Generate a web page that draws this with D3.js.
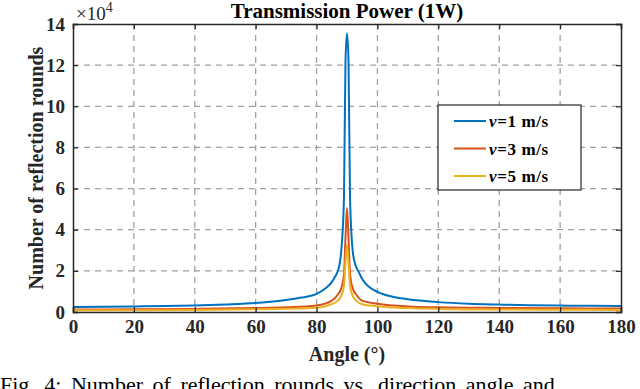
<!DOCTYPE html>
<html>
<head>
<meta charset="utf-8">
<script src="https://cdn.jsdelivr.net/npm/d3@7/dist/d3.min.js"></script>
<style>
  body { margin: 0; background: #fff; }
  text { font-family: "Liberation Serif", "DejaVu Serif", serif; }
</style>
</head>
<body>
<div id="chart"></div>
<script>
// angle samples (degrees) and values (x 10^4) for each speed
var angles_v1 = [0, 10, 20, 30, 40, 50, 60, 70, 75, 80, 83, 85, 86, 87, 88, 89, 89.5, 90, 90.5, 91, 92, 93, 94, 95, 97, 100, 105, 110, 120, 130, 140, 150, 160, 170, 180];
var values_v1 = [0.24, 0.25, 0.27, 0.29, 0.32, 0.37, 0.44, 0.58, 0.7, 0.88, 1.15, 1.45, 1.7, 2.0, 2.8, 5.5, 12.2, 13.55, 12.2, 5.5, 2.8, 2.2, 1.9, 1.6, 1.25, 0.98, 0.74, 0.62, 0.48, 0.4, 0.36, 0.33, 0.31, 0.3, 0.29];

var angles_v3 = [0, 20, 40, 60, 70, 80, 85, 87, 88, 89, 89.5, 90, 90.5, 91, 92, 93, 95, 100, 110, 120, 140, 160, 180];
var values_v3 = [0.12, 0.13, 0.15, 0.19, 0.23, 0.32, 0.55, 0.85, 1.1, 1.8, 3.6, 5.05, 3.6, 1.8, 1.1, 0.85, 0.55, 0.4, 0.27, 0.23, 0.2, 0.18, 0.17];

var angles_v5 = [0, 20, 40, 60, 70, 80, 85, 87, 88, 89, 89.5, 90, 90.5, 91, 92, 93, 95, 100, 110, 120, 140, 160, 180];
var values_v5 = [0.08, 0.09, 0.1, 0.13, 0.16, 0.21, 0.38, 0.55, 0.75, 1.25, 2.4, 3.26, 2.4, 1.25, 0.75, 0.55, 0.38, 0.28, 0.19, 0.15, 0.12, 0.11, 0.1];

var series_names = ["1", "3", "5"];
var series_colors = ["#0072BD", "#D95319", "#EDB120"];
var x_ticks = [0, 20, 40, 60, 80, 100, 120, 140, 160, 180];
var y_ticks = [0, 2, 4, 6, 8, 10, 12, 14];

var w = 640, h = 389;
// plot box
var pl = 73, pr = 621, pt = 24, pb = 312;

var svg = d3.select("#chart").append("svg")
  .attr("width", w)
  .attr("height", h);

var x = d3.scaleLinear().domain([0, 180]).range([pl, pr]);
var y = d3.scaleLinear().domain([0, 14]).range([pb, pt]);

// grid
svg.append("g").selectAll("line")
  .data(x_ticks.slice(1, -1))
  .enter().append("line")
  .attr("x1", function(d){return x(d);})
  .attr("x2", function(d){return x(d);})
  .attr("y1", pt).attr("y2", pb)
  .attr("stroke", "#a0a0a0")
  .attr("stroke-width", 1.3)
  .attr("stroke-dasharray", "6,5");
svg.append("g").selectAll("line")
  .data(y_ticks.slice(1, -1))
  .enter().append("line")
  .attr("x1", pl).attr("x2", pr)
  .attr("y1", function(d){return y(d);})
  .attr("y2", function(d){return y(d);})
  .attr("stroke", "#a0a0a0")
  .attr("stroke-width", 1.3)
  .attr("stroke-dasharray", "6,5");

// curves
var all_angles = [angles_v1, angles_v3, angles_v5];
var all_values = [values_v1, values_v3, values_v5];
var line = d3.line()
  .x(function(d){return x(d[0]);})
  .y(function(d){return y(d[1]);})
  .curve(d3.curveMonotoneX);

for (var s = 0; s < 3; s++) {
  var pts = all_angles[s].map(function(a, i){return [a, all_values[s][i]];});
  svg.append("path")
    .datum(pts)
    .attr("d", line)
    .attr("fill", "none")
    .attr("stroke", series_colors[s])
    .attr("stroke-width", 2);
}

// axes (box with inward ticks)
var xAxisB = d3.axisBottom(x).tickValues(x_ticks).tickSize(-5).tickPadding(8);
var xAxisT = d3.axisTop(x).tickValues(x_ticks).tickSize(-5).tickFormat("");
var yAxisL = d3.axisLeft(y).tickValues(y_ticks).tickSize(-5).tickPadding(8);
var yAxisR = d3.axisRight(y).tickValues(y_ticks).tickSize(-5).tickFormat("");

function styleAxis(g) {
  g.selectAll("path").attr("stroke", "#262626").attr("stroke-width", 1.5);
  g.selectAll("line").attr("stroke", "#262626").attr("stroke-width", 1.2);
  g.selectAll("text")
    .attr("fill", "#262626")
    .style("font-family", "'Liberation Serif', serif")
    .style("font-size", "19px")
    .style("font-weight", "bold");
}
svg.append("g").attr("transform", "translate(0," + pb + ")").call(xAxisB).call(styleAxis);
svg.append("g").attr("transform", "translate(0," + pt + ")").call(xAxisT).call(styleAxis);
svg.append("g").attr("transform", "translate(" + pl + ",0)").call(yAxisL).call(styleAxis);
svg.append("g").attr("transform", "translate(" + pr + ",0)").call(yAxisR).call(styleAxis);

// exponent
var expo = svg.append("text")
  .attr("x", pl + 3)
  .attr("y", 20)
  .attr("font-size", 19)
  .attr("fill", "#262626");
expo.append("tspan").text("\u00d710");
expo.append("tspan").attr("dy", -8).attr("font-size", 14).text("4");

// title
svg.append("text")
  .attr("x", (pl + pr) / 2)
  .attr("y", 18)
  .attr("text-anchor", "middle")
  .attr("font-size", 21)
  .attr("font-weight", "bold")
  .attr("fill", "#000")
  .text("Transmission Power (1W)");

// axis labels
svg.append("text")
  .attr("x", (pl + pr) / 2)
  .attr("y", 361)
  .attr("text-anchor", "middle")
  .attr("font-size", 20)
  .attr("font-weight", "bold")
  .attr("fill", "#262626")
  .text("Angle (\u00b0)");
svg.append("text")
  .attr("transform", "translate(43," + ((pt + pb) / 2) + ") rotate(-90)")
  .attr("text-anchor", "middle")
  .attr("font-size", 20)
  .attr("font-weight", "bold")
  .attr("fill", "#262626")
  .text("Number of reflection rounds");

// legend
var lg = svg.append("g").attr("transform", "translate(438,105)");
lg.append("rect")
  .attr("width", 143).attr("height", 85)
  .attr("fill", "#fff")
  .attr("stroke", "#262626")
  .attr("stroke-width", 1.2);
var items = lg.selectAll("g.item")
  .data(series_names)
  .enter().append("g")
  .attr("transform", function(d, i){return "translate(0," + (16 + i * 27.5) + ")";});
items.append("line")
  .attr("x1", 16).attr("x2", 48)
  .attr("stroke", function(d, i){return series_colors[i];})
  .attr("stroke-width", 2);
var lt = items.append("text")
  .attr("x", 51).attr("y", 6)
  .attr("font-size", 17)
  .attr("font-weight", "bold")
  .attr("letter-spacing", 0.6)
  .attr("fill", "#000");
lt.append("tspan").attr("font-style", "italic").text("v");
lt.append("tspan").text(function(d){return "=" + d + " m/s";});

// caption (cut off at bottom, as in the page it came from)
svg.append("text")
  .attr("x", 0)
  .attr("y", 392)
  .attr("font-size", 22)
  .attr("word-spacing", 4)
  .attr("fill", "#000")
  .text("Fig. 4: Number of reflection rounds vs. direction angle and");
</script>
</body>
</html>
